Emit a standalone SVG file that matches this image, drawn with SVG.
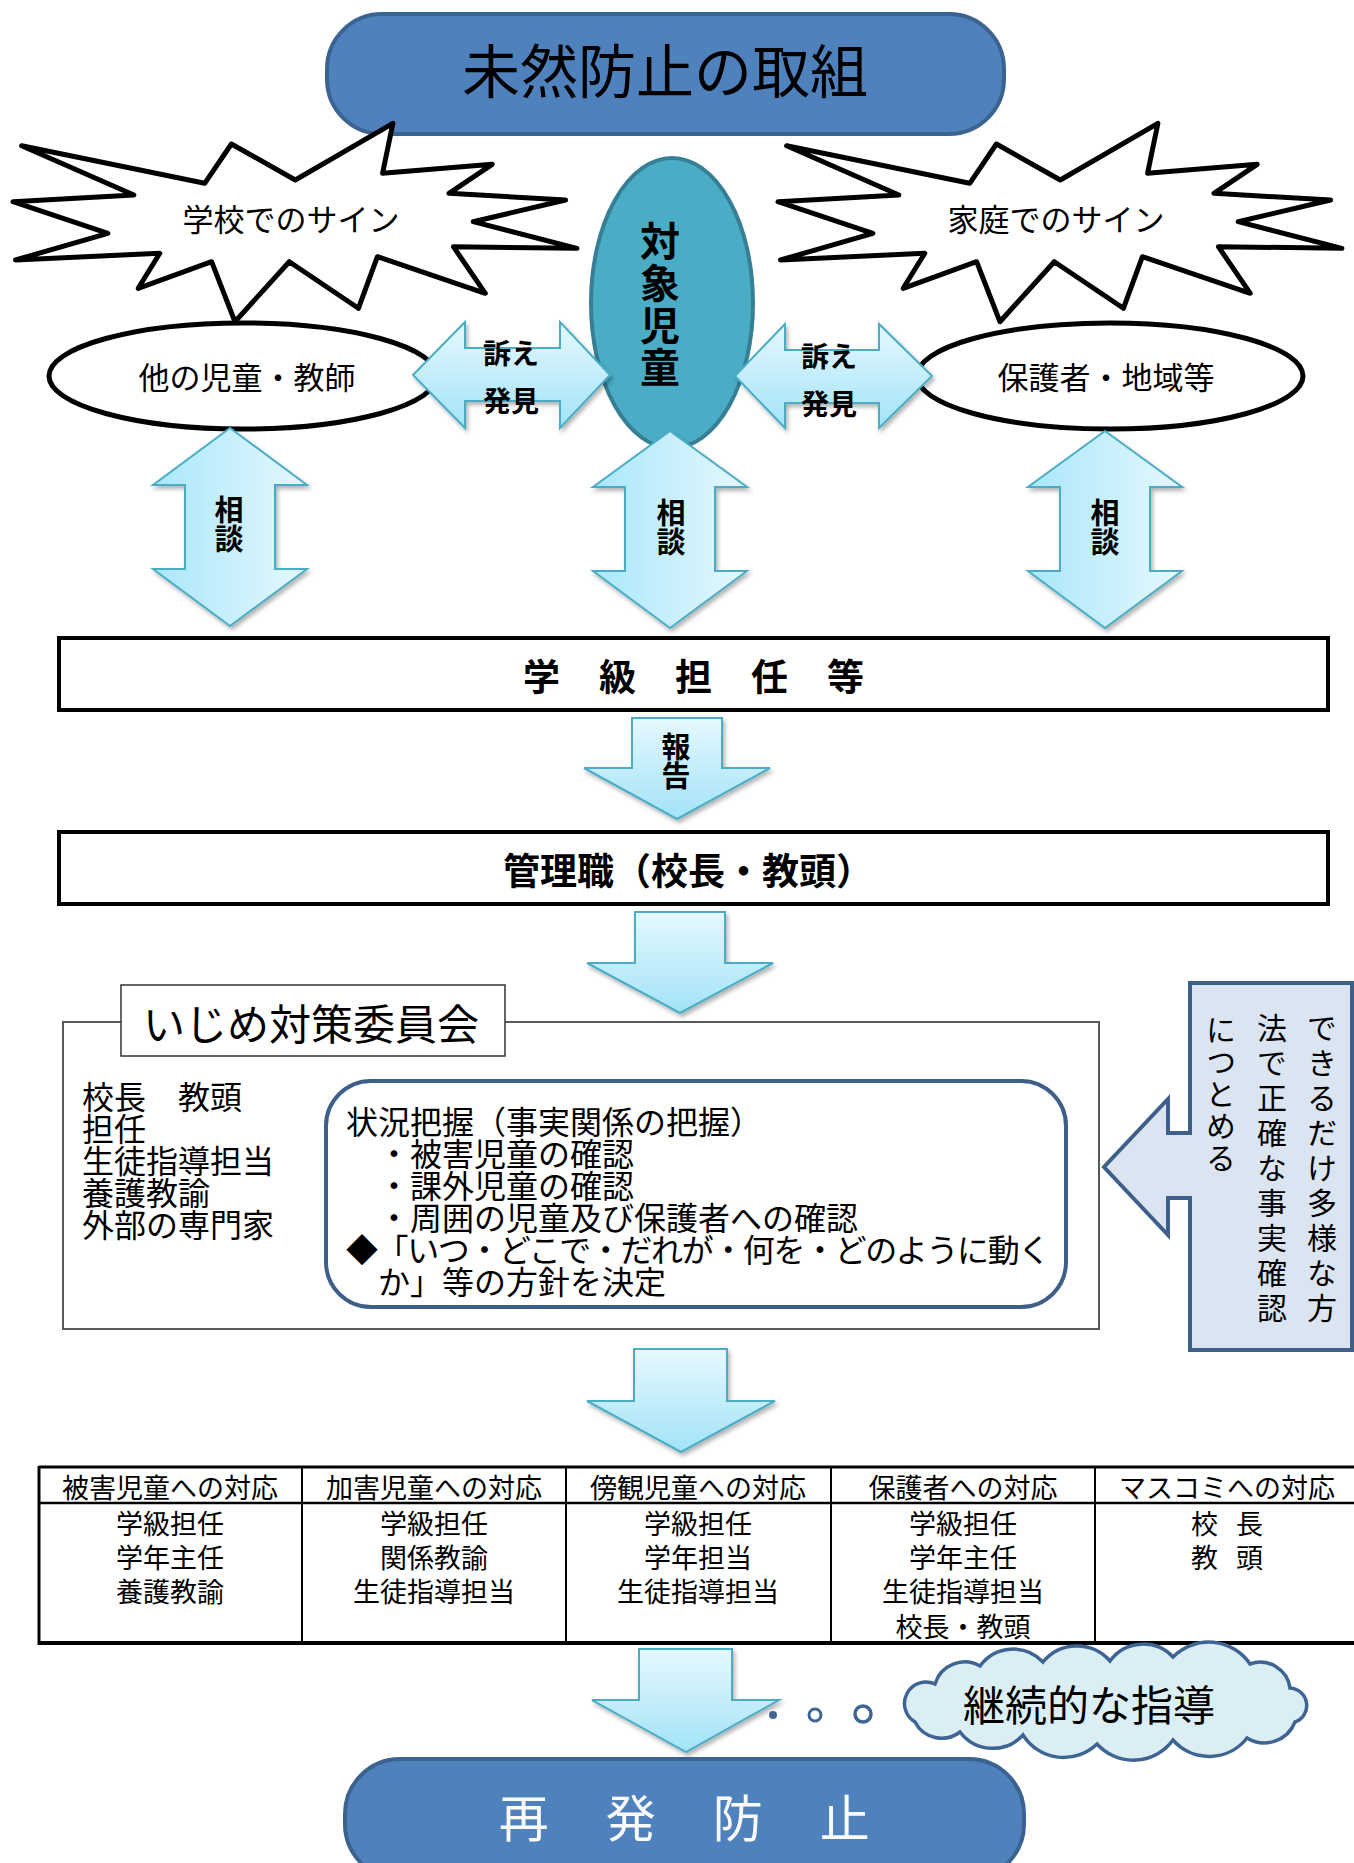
<svg xmlns="http://www.w3.org/2000/svg" width="1354" height="1863" viewBox="0 0 1354 1863">
<defs>
<style>
text { font-family: "Noto Sans CJK JP", "Noto Sans", sans-serif; fill: #000; dominant-baseline: central; }
.c { text-anchor: middle; }
.b { font-weight: bold; }
.vt { writing-mode: vertical-rl; text-anchor: middle; }
.pill { fill: #4f81bd; stroke: #3b6391; stroke-width: 4; }
.star { fill: #fff; stroke: #000; stroke-width: 5; stroke-linejoin: round; }
.oval { fill: #fff; stroke: #000; stroke-width: 5; }
.arrD { fill: url(#gD); stroke: #4bacc6; stroke-width: 2; filter: url(#sh); }
.arrV { fill: url(#gV); stroke: #4bacc6; stroke-width: 2; filter: url(#sh); }
.box { fill: #fff; stroke: #000; stroke-width: 4; }
.tl { stroke: #000; fill: none; }
</style>
<linearGradient id="gD" x1="0" y1="0" x2="0" y2="1">
<stop offset="0" stop-color="#e6f8fe"/>
<stop offset="1" stop-color="#a2e3f8"/>
</linearGradient>
<linearGradient id="gV" x1="0" y1="0" x2="1" y2="0">
<stop offset="0" stop-color="#a9e7fa"/>
<stop offset="1" stop-color="#e6f8fe"/>
</linearGradient>
<filter id="sh" x="-20%" y="-20%" width="140%" height="140%">
<feDropShadow dx="2" dy="3" stdDeviation="2" flood-color="#000" flood-opacity="0.3"/>
</filter>
<path id="starShape" d="M21.6,145.7 L204.7,183.3 L231.4,144 L295.3,180 L392.9,123.3 L382.6,173.3 L492.2,164.3 L449,193.3 L565.6,200 L473.2,221.7 L576.9,248.3 L453.4,246.7 L485.3,293.3 L377.4,256.7 L358.4,308.3 L289.3,261.7 L234.9,321.7 L211.6,261.7 L138.2,288.3 L159.8,253.3 L15.5,260 L107.9,233.3 L13,201.7 L133.9,195 Z"/>
</defs>

<g id="title">
<rect class="pill" x="327" y="14" width="677" height="120" rx="55" ry="55"/>
<text class="c" x="665" y="68" font-size="58">未然防止の取組</text>
</g>

<g id="school-sign">
<use href="#starShape" class="star"/>
<text class="c" x="291" y="217" font-size="31">学校でのサイン</text>
</g>

<g id="home-sign">
<use href="#starShape" class="star" transform="translate(765,0)"/>
<text class="c" x="1056" y="217" font-size="31">家庭でのサイン</text>
</g>

<g id="others">
<ellipse class="oval" cx="243" cy="376" rx="194" ry="53"/>
<text class="c" x="247" y="375" font-size="31">他の児童・教師</text>
</g>

<g id="guardians">
<ellipse class="oval" cx="1110" cy="376" rx="193" ry="53"/>
<text class="c" x="1106" y="375" font-size="31">保護者・地域等</text>
</g>

<g id="target-child">
<ellipse cx="672" cy="303" rx="81" ry="145" fill="#4bacc6" stroke="#367f94" stroke-width="4"/>
<text class="vt b" x="660" y="305" font-size="40" letter-spacing="2">対象児童</text>
</g>

<g id="connectors">
<g id="arrow-left-h">
<path class="arrD" d="M413,375 L465,322 V348 H560 V322 L610,375 L560,428 V401 H465 V428 Z"/>
<text class="c b" x="511" y="352" font-size="28">訴え</text>
<text class="c b" x="511" y="400" font-size="28">発見</text>
</g>
<g id="arrow-right-h">
<path class="arrD" d="M735,376 L785,324 V350 H879 V324 L932,376 L879,428 V403 H785 V428 Z"/>
<text class="c b" x="829" y="355" font-size="28">訴え</text>
<text class="c b" x="829" y="403" font-size="28">発見</text>
</g>
<g id="arrow-consult-1">
<path class="arrV" d="M230,428 L307,485 H275 V569 H307 L230,626 L153,569 H185 V485 H153 Z"/>
<text class="vt b" x="229" y="524" font-size="29">相談</text>
</g>
<g id="arrow-consult-2">
<path class="arrV" d="M670,431 L747,487 H715 V571 H747 L670,628 L593,571 H625 V487 H593 Z"/>
<text class="vt b" x="671" y="527" font-size="29">相談</text>
</g>
<g id="arrow-consult-3">
<path class="arrV" d="M1105,431 L1182,487 H1150 V571 H1182 L1105,628 L1028,571 H1060 V487 H1028 Z"/>
<text class="vt b" x="1105" y="527" font-size="29">相談</text>
</g>
<g id="arrow-report">
<path class="arrD" d="M632,718 H722 V768 H770 L677,819 L584,768 H632 Z"/>
<text class="vt b" x="676" y="761" font-size="29">報告</text>
</g>
<path class="arrD" d="M635,912 H725 V963 H773 L680,1013 L587,963 H635 Z"/>
<path class="arrD" d="M634,1349 H727 V1401 H775 L681,1452 L587,1401 H634 Z"/>
<path class="arrD" d="M639,1649 H732 V1700 H779 L686,1752 L592,1700 H639 Z"/>
</g>

<g id="homeroom">
<rect class="box" x="59" y="638" width="1269" height="72"/>
<text class="c b" x="694" y="675" font-size="37" letter-spacing="1">学　級　担　任　等</text>
</g>

<g id="management">
<rect class="box" x="59" y="832" width="1269" height="72"/>
<text class="c b" x="688" y="869" font-size="37">管理職（校長・教頭）</text>
</g>

<g id="committee">
<rect x="63" y="1022" width="1036" height="307" fill="#fff" stroke="#595959" stroke-width="2"/>
<rect x="121" y="985" width="384" height="71" fill="#fff" stroke="#333" stroke-width="1.5"/>
<text class="c" x="311" y="1021" font-size="42">いじめ対策委員会</text>
<text x="82" y="1095" font-size="32"><tspan x="82" y="1095">校長　教頭</tspan><tspan x="82" y="1127">担任</tspan><tspan x="82" y="1159">生徒指導担当</tspan><tspan x="82" y="1191">養護教諭</tspan><tspan x="82" y="1223">外部の専門家</tspan></text>
</g>

<g id="fact-finding">
<rect x="326" y="1081" width="740" height="226" rx="45" ry="45" fill="#fff" stroke="#3e5f8a" stroke-width="4"/>
<text x="346" y="1120" font-size="32"><tspan x="346" y="1120">状況把握（事実関係の把握）</tspan><tspan x="378" y="1152">・被害児童の確認</tspan><tspan x="378" y="1184">・課外児童の確認</tspan><tspan x="378" y="1216">・周囲の児童及び保護者への確認</tspan><tspan x="346" y="1248" letter-spacing="-1.4">◆「いつ・どこで・だれが・何を・どのように動く</tspan><tspan x="378" y="1280">か」等の方針を決定</tspan></text>
</g>

<g id="callout">
<path d="M1190,983 H1352 V1350 H1190 V1198 H1168 V1235 L1104,1167 L1168,1099 V1133 H1190 Z" fill="#dbe5f1" stroke="#3e5f8a" stroke-width="4"/>
<text class="vt" x="1322" y="1170" font-size="30" letter-spacing="5">できるだけ多様な方</text>
<text class="vt" x="1272" y="1170" font-size="30" letter-spacing="5">法で正確な事実確認</text>
<text class="vt" x="1221" y="1015" font-size="30" letter-spacing="2" style="text-anchor:start">につとめる</text>
</g>

<g id="response-table">
<line class="tl" x1="39" y1="1467" x2="1354" y2="1467" stroke-width="3"/>
<line class="tl" x1="39" y1="1503" x2="1354" y2="1503" stroke-width="2.5"/>
<line class="tl" x1="39" y1="1643" x2="1354" y2="1643" stroke-width="4"/>
<line class="tl" x1="39" y1="1466" x2="39" y2="1645" stroke-width="3"/>
<line class="tl" x1="302" y1="1467" x2="302" y2="1643" stroke-width="2"/>
<line class="tl" x1="566" y1="1467" x2="566" y2="1643" stroke-width="2"/>
<line class="tl" x1="831" y1="1467" x2="831" y2="1643" stroke-width="2"/>
<line class="tl" x1="1095" y1="1467" x2="1095" y2="1643" stroke-width="2"/>
<g font-size="27">
<text class="c" x="170" y="1486">被害児童への対応</text>
<text class="c" x="434" y="1486">加害児童への対応</text>
<text class="c" x="698" y="1486">傍観児童への対応</text>
<text class="c" x="963" y="1486">保護者への対応</text>
<text class="c" x="1227" y="1486">マスコミへの対応</text>
<text class="c" x="170" y="1522"><tspan x="170" y="1522">学級担任</tspan><tspan x="170" y="1556">学年主任</tspan><tspan x="170" y="1590">養護教諭</tspan></text>
<text class="c" x="434" y="1522"><tspan x="434" y="1522">学級担任</tspan><tspan x="434" y="1556">関係教諭</tspan><tspan x="434" y="1590">生徒指導担当</tspan></text>
<text class="c" x="698" y="1522"><tspan x="698" y="1522">学級担任</tspan><tspan x="698" y="1556">学年担当</tspan><tspan x="698" y="1590">生徒指導担当</tspan></text>
<text class="c" x="963" y="1522"><tspan x="963" y="1522">学級担任</tspan><tspan x="963" y="1556">学年主任</tspan><tspan x="963" y="1590">生徒指導担当</tspan><tspan x="963" y="1625">校長・教頭</tspan></text>
<text class="c" x="1227" y="1522" word-spacing="12"><tspan x="1227" y="1522">校 長</tspan><tspan x="1227" y="1556">教 頭</tspan></text>
</g>
</g>

<g id="continuous-guidance">
<circle cx="773" cy="1715" r="4" fill="#3e6494"/>
<circle cx="815" cy="1715" r="6" fill="#fff" stroke="#3e6494" stroke-width="3"/>
<circle cx="863" cy="1714" r="8" fill="#fff" stroke="#3e6494" stroke-width="3.5"/>
<path d="M915,1722 A21.5,21.5 0 0 1 935,1684 A31,31 0 0 1 980,1666 A41,41 0 0 1 1043,1662 A44,44 0 0 1 1110,1661 A41,41 0 0 1 1173,1657 A50,50 0 0 1 1250,1664 A30,30 0 0 1 1290,1688 A17.5,17.5 0 0 1 1295,1722 A33,33 0 0 1 1247,1738 A48,48 0 0 1 1173,1740 A49,49 0 0 1 1097,1744 A48,48 0 0 1 1023,1735 A41,41 0 0 1 960,1732 A30,30 0 0 1 915,1722 Z" fill="#dbeef4" stroke="#3e6494" stroke-width="3.5"/>
<text class="c" x="1089" y="1702" font-size="42">継続的な指導</text>
</g>

<g id="prevent-recurrence">
<rect class="pill" x="345" y="1759" width="679" height="120" rx="55" ry="55"/>
<text class="c" x="686" y="1815" font-size="50" letter-spacing="3.5" style="fill:#fafafa">再　発　防　止</text>
</g>
</svg>
